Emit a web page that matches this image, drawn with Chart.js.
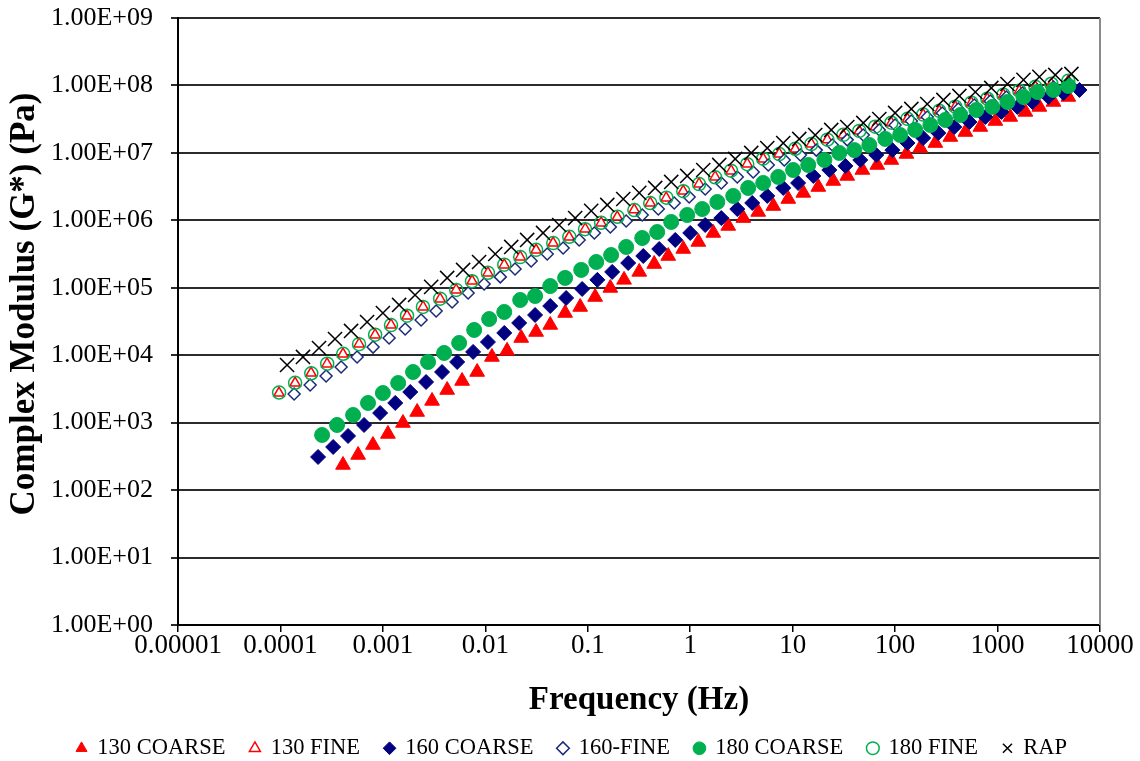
<!DOCTYPE html>
<html lang="en">
<head>
    <meta charset="UTF-8">
    <title>Complex Modulus vs Frequency</title>
    <style>
        html, body {
            margin: 0;
            padding: 0;
            background-color: #ffffff;
        }
        #wrap {
            width: 1140px;
            height: 761px;
        }
    </style>
</head>
<body>
    <div id="wrap"><canvas id="chart" width="1140" height="761"></canvas></div>
    <script src="https://cdn.jsdelivr.net/npm/chart.js"></script>
    <script>
        // 130 COARSE
        const coarse130Freq = [4.08e-4, 5.73e-4, 8.0e-4, 1.12e-3, 1.57e-3, 2.16e-3, 3.02e-3, 4.24e-3, 5.93e-3, 8.32e-3,
            1.16e-2, 1.63e-2, 2.24e-2, 3.13e-2, 4.30e-2, 6.01e-2, 8.43e-2, 0.118, 0.166, 0.226,
            0.318, 0.445, 0.610, 0.855, 1.20, 1.68, 2.35, 3.30, 4.61, 6.47,
            9.06, 12.7, 17.8, 24.9, 34.1, 47.9, 67.0, 91.8, 129, 176,
            247, 346, 485, 679, 952, 1330, 1870, 2560, 3510, 4910];
        const coarse130G = [236, 332, 467, 680, 989, 1440, 2100, 3050, 4150, 5640,
            9420, 1.16e4, 1.80e4, 2.21e4, 2.81e4, 4.23e4, 5.19e4, 7.30e4, 9.94e4, 1.31e5,
            1.72e5, 2.25e5, 2.96e5, 3.76e5, 4.78e5, 6.50e5, 8.25e5, 1.08e6, 1.33e6, 1.63e6,
            2.07e6, 2.55e6, 3.12e6, 3.83e6, 4.55e6, 5.58e6, 6.62e6, 7.85e6, 9.64e6, 1.18e7,
            1.40e7, 1.72e7, 2.04e7, 2.42e7, 2.97e7, 3.41e7, 4.05e7, 4.80e7, 5.69e7, 6.75e7];

        // 130 FINE
        const fine130Freq = [9.68e-5, 1.39e-4, 1.99e-4, 2.85e-4, 4.08e-4, 5.86e-4, 8.39e-4, 1.20e-3, 1.72e-3, 2.47e-3,
            3.62e-3, 5.19e-3, 7.43e-3, 1.06e-2, 1.53e-2, 2.19e-2, 3.13e-2, 4.59e-2, 6.58e-2, 9.44e-2,
            0.135, 0.194, 0.284, 0.407, 0.583, 0.855, 1.22, 1.75, 2.51, 3.60,
            5.16, 7.40, 10.6, 15.2, 21.8, 31.2, 44.7, 64.1, 91.8, 132,
            188, 270, 387, 555, 794, 1140, 1630, 2340, 3350, 4910];
        const fine130G = [2750, 3870, 5450, 7420, 1.04e4, 1.47e4, 2.00e4, 2.81e4, 3.82e4, 5.19e4,
            6.82e4, 9.27e4, 1.26e5, 1.66e5, 2.18e5, 2.86e5, 3.63e5, 4.61e5, 5.66e5, 7.45e5,
            9.14e5, 1.12e6, 1.43e6, 1.81e6, 2.15e6, 2.72e6, 3.46e6, 4.40e6, 5.40e6, 6.85e6,
            8.13e6, 9.64e6, 1.14e7, 1.36e7, 1.56e7, 1.84e7, 2.11e7, 2.42e7, 2.78e7, 3.18e7,
            3.65e7, 4.19e7, 4.80e7, 5.50e7, 6.31e7, 7.23e7, 8.28e7, 9.49e7, 1.05e8, 1.16e8];

        // 160 COARSE
        const coarse160Freq = [2.33e-4, 3.27e-4, 4.57e-4, 6.55e-4, 9.40e-4, 1.32e-3, 1.85e-3, 2.64e-3, 3.78e-3, 5.31e-3,
            7.60e-3, 1.06e-2, 1.53e-2, 2.14e-2, 3.06e-2, 4.30e-2, 6.15e-2, 8.81e-2, 0.124, 0.173,
            0.248, 0.348, 0.498, 0.714, 1.00, 1.40, 2.01, 2.88, 4.03, 5.65,
            8.09, 11.3, 15.9, 22.8, 32.7, 45.7, 65.5, 94.0, 132, 188,
            264, 378, 531, 760, 1090, 1560, 2190, 3130, 4390, 6300];
        const coarse160G = [310, 436, 635, 924, 1390, 1960, 2850, 4010, 5640, 7940,
            1.12e4, 1.57e4, 2.14e4, 3.01e4, 3.95e4, 5.37e4, 7.06e4, 9.60e4, 1.31e5, 1.72e5,
            2.33e5, 2.96e5, 3.76e5, 5.12e5, 6.50e5, 8.53e5, 1.08e6, 1.47e6, 1.81e6, 2.30e6,
            3.02e6, 3.58e6, 4.55e6, 5.58e6, 6.40e6, 7.85e6, 9.31e6, 1.10e7, 1.40e7, 1.66e7,
            1.97e7, 2.42e7, 2.87e7, 3.41e7, 4.05e7, 4.80e7, 5.69e7, 6.75e7, 7.73e7, 8.57e7];

        // 160-FINE
        const fine160Freq = [1.36e-4, 1.95e-4, 2.79e-4, 3.91e-4, 5.60e-4, 8.02e-4, 1.15e-3, 1.65e-3, 2.36e-3, 3.31e-3,
            4.74e-3, 6.79e-3, 9.73e-3, 1.40e-2, 1.95e-2, 2.80e-2, 4.02e-2, 5.75e-2, 8.24e-2, 0.116,
            0.166, 0.237, 0.340, 0.488, 0.698, 0.977, 1.40, 2.01, 2.88, 4.12,
            5.78, 8.28, 11.9, 17.0, 24.4, 34.1, 48.9, 70.1, 100, 144,
            206, 289, 414, 593, 851, 1220, 1750, 2450, 3510, 5020];
        const fine160G = [2660, 3620, 4920, 6700, 9420, 1.32e4, 1.80e4, 2.45e4, 3.33e4, 4.53e4,
            6.15e4, 8.38e4, 1.14e5, 1.45e5, 1.90e5, 2.50e5, 3.17e5, 3.89e5, 5.12e5, 6.50e5,
            7.98e5, 9.79e5, 1.20e6, 1.47e6, 1.81e6, 2.22e6, 2.92e6, 3.58e6, 4.40e6, 5.21e6,
            6.62e6, 7.85e6, 9.31e6, 1.10e7, 1.31e7, 1.56e7, 1.84e7, 2.19e7, 2.59e7, 2.97e7,
            3.41e7, 3.91e7, 4.48e7, 5.14e7, 5.89e7, 6.75e7, 7.73e7, 8.57e7, 9.49e7, 1.05e8];

        // 180 COARSE
        const coarse180Freq = [2.55e-4, 3.57e-4, 5.12e-4, 7.16e-4, 1.00e-3, 1.41e-3, 1.97e-3, 2.76e-3, 3.96e-3, 5.55e-3,
            7.78e-3, 1.09e-2, 1.53e-2, 2.19e-2, 3.06e-2, 4.30e-2, 6.01e-2, 8.63e-2, 0.121, 0.169,
            0.237, 0.340, 0.476, 0.652, 0.935, 1.31, 1.84, 2.63, 3.68, 5.16,
            7.23, 10.1, 14.2, 20.4, 28.5, 40.0, 56.0, 80.2, 112, 157,
            221, 309, 434, 621, 889, 1250, 1790, 2450, 3510, 4910];
        const coarse180G = [657, 924, 1300, 1960, 2750, 3870, 5640, 7940, 1.08e4, 1.52e4,
            2.37e4, 3.44e4, 4.38e4, 6.59e4, 7.55e4, 1.06e5, 1.40e5, 1.84e5, 2.41e5, 3.06e5,
            4.03e5, 5.47e5, 6.71e5, 9.46e5, 1.20e6, 1.47e6, 1.87e6, 2.30e6, 3.02e6, 3.58e6,
            4.40e6, 5.58e6, 6.62e6, 7.85e6, 9.98e6, 1.10e7, 1.31e7, 1.61e7, 1.84e7, 2.19e7,
            2.59e7, 3.08e7, 3.65e7, 4.33e7, 4.80e7, 5.69e7, 6.75e7, 8.00e7, 8.57e7, 9.82e7];

        // 180 FINE
        const fine180Freq = [9.7e-5, 1.39e-4, 2.0e-4, 2.86e-4, 4.1e-4, 5.85e-4, 8.4e-4, 1.20e-3, 1.72e-3, 2.46e-3,
            3.62e-3, 5.2e-3, 7.4e-3, 1.06e-2, 1.53e-2, 2.19e-2, 3.13e-2, 4.6e-2, 6.6e-2, 9.4e-2,
            0.135, 0.195, 0.285, 0.407, 0.585, 0.855, 1.22, 1.75, 2.5, 3.6,
            5.15, 7.4, 10.6, 15.2, 21.8, 31.2, 44.7, 64, 92, 132,
            188, 270, 387, 555, 795, 1140, 1630, 2340, 3350, 4900];
        const fine180G = [2800, 3900, 5400, 7500, 1.05e4, 1.46e4, 2.02e4, 2.80e4, 3.85e4, 5.20e4,
            6.90e4, 9.30e4, 1.25e5, 1.67e5, 2.20e5, 2.85e5, 3.65e5, 4.60e5, 5.70e5, 7.40e5,
            9.20e5, 1.13e6, 1.42e6, 1.80e6, 2.17e6, 2.70e6, 3.45e6, 4.35e6, 5.45e6, 6.80e6,
            8.20e6, 9.60e6, 1.15e7, 1.35e7, 1.57e7, 1.85e7, 2.12e7, 2.45e7, 2.80e7, 3.20e7,
            3.70e7, 4.20e7, 4.85e7, 5.55e7, 6.35e7, 7.30e7, 8.35e7, 9.55e7, 1.06e8, 1.17e8];

        // RAP
        const rapFreq = [1.16e-4, 1.66e-4, 2.38e-4, 3.41e-4, 4.89e-4, 7.01e-4, 1.00e-3, 1.44e-3, 2.06e-3, 2.96e-3,
            4.24e-3, 6.07e-3, 8.69e-3, 1.25e-2, 1.79e-2, 2.56e-2, 3.66e-2, 5.26e-2, 7.53e-2, 0.108,
            0.155, 0.222, 0.318, 0.455, 0.652, 0.935, 1.34, 1.92, 2.75, 3.94,
            5.65, 8.09, 11.6, 16.6, 23.8, 34.1, 48.9, 70.1, 100, 144,
            206, 296, 424, 607, 869, 1250, 1790, 2560, 3660, 5260];
        const rapG = [7160, 9420, 1.28e4, 1.74e4, 2.29e4, 3.11e4, 4.23e4, 5.56e4, 7.82e4, 1.03e5,
            1.40e5, 1.84e5, 2.41e5, 3.17e5, 4.03e5, 5.12e5, 6.50e5, 8.53e5, 1.08e6, 1.38e6,
            1.69e6, 2.07e6, 2.55e6, 3.02e6, 3.71e6, 4.55e6, 5.58e6, 6.62e6, 8.13e6, 9.98e6,
            1.18e7, 1.40e7, 1.61e7, 1.84e7, 2.19e7, 2.42e7, 2.78e7, 3.18e7, 3.91e7, 4.48e7,
            5.31e7, 6.10e7, 6.98e7, 8.00e7, 9.18e7, 1.05e8, 1.21e8, 1.34e8, 1.43e8, 1.48e8];

        // axis ticks
        const xTickValues = [1e-5, 1e-4, 1e-3, 1e-2, 1e-1, 1, 10, 100, 1000, 10000];
        const xTickLabels = ['0.00001', '0.0001', '0.001', '0.01', '0.1', '1', '10', '100', '1000', '10000'];
        const yTickValues = [1, 10, 100, 1e3, 1e4, 1e5, 1e6, 1e7, 1e8, 1e9];
        const yTickLabels = ['1.00E+00', '1.00E+01', '1.00E+02', '1.00E+03', '1.00E+04',
            '1.00E+05', '1.00E+06', '1.00E+07', '1.00E+08', '1.00E+09'];

        const serif = "'Liberation Serif', 'Times New Roman', serif";

        function toPoints(xs, ys) {
            return xs.map((x, i) => ({ x: x, y: ys[i] }));
        }

        // grey right-hand frame line of the plot area
        const rightFrame = {
            id: 'rightFrame',
            beforeDatasetsDraw(chart) {
                const { ctx, chartArea } = chart;
                ctx.save();
                ctx.strokeStyle = '#8a8a8a';
                ctx.lineWidth = 2;
                ctx.beginPath();
                ctx.moveTo(chartArea.right, chartArea.top);
                ctx.lineTo(chartArea.right, chartArea.bottom);
                ctx.stroke();
                ctx.restore();
            }
        };

        // fixed legend strip height, then nudge it a little right and up
        const legendPlace = {
            id: 'legendPlace',
            beforeInit(chart) {
                const lg = chart.legend;
                if (!lg) return;
                const origFit = lg.fit;
                lg.fit = function () {
                    origFit.call(this);
                    this.height = 46;
                };
            },
            afterLayout(chart) {
                const lg = chart.legend;
                if (!lg) return;
                lg.left += 22;
                lg.right += 22;
                lg.top -= 3;
                lg.bottom -= 3;
            }
        };

        new Chart(document.getElementById('chart').getContext('2d'), {
            type: 'scatter',
            data: {
                datasets: [
                    {
                        label: '130 COARSE',
                        data: toPoints(coarse130Freq, coarse130G),
                        pointStyle: 'triangle',
                        pointRadius: 8.5,
                        backgroundColor: '#ff0000',
                        borderColor: '#ff0000',
                        borderWidth: 1,
                        order: 7
                    },
                    {
                        label: '130 FINE',
                        data: toPoints(fine130Freq, fine130G),
                        pointStyle: 'triangle',
                        pointRadius: 6,
                        backgroundColor: '#ffffff',
                        borderColor: '#ff0000',
                        borderWidth: 1.5,
                        order: 6
                    },
                    {
                        label: '160 COARSE',
                        data: toPoints(coarse160Freq, coarse160G),
                        pointStyle: 'rectRot',
                        pointRadius: 7.5,
                        backgroundColor: '#000080',
                        borderColor: '#000080',
                        borderWidth: 1,
                        order: 5
                    },
                    {
                        label: '160-FINE',
                        data: toPoints(fine160Freq, fine160G),
                        pointStyle: 'rectRot',
                        pointRadius: 6,
                        backgroundColor: '#ffffff',
                        borderColor: '#1c2a7a',
                        borderWidth: 1.5,
                        order: 4
                    },
                    {
                        label: '180 COARSE',
                        data: toPoints(coarse180Freq, coarse180G),
                        pointStyle: 'circle',
                        pointRadius: 7.5,
                        backgroundColor: '#00b050',
                        borderColor: '#00b050',
                        borderWidth: 1,
                        order: 3
                    },
                    {
                        label: '180 FINE',
                        data: toPoints(fine180Freq, fine180G),
                        pointStyle: 'circle',
                        pointRadius: 6.5,
                        backgroundColor: 'rgba(255,255,255,0)',
                        borderColor: '#00b050',
                        borderWidth: 1.5,
                        order: 2
                    },
                    {
                        label: 'RAP',
                        data: toPoints(rapFreq, rapG),
                        pointStyle: 'crossRot',
                        pointRadius: 10,
                        backgroundColor: '#000000',
                        borderColor: '#000000',
                        borderWidth: 1.5,
                        order: 1
                    }
                ]
            },
            options: {
                responsive: false,
                animation: false,
                events: [],
                layout: {
                    padding: { top: 18, right: 40, bottom: 0, left: 0 }
                },
                plugins: {
                    tooltip: { enabled: false },
                    legend: {
                        position: 'bottom',
                        labels: {
                            usePointStyle: true,
                            boxWidth: 9,
                            boxHeight: 9,
                            padding: 25,
                            color: '#000000',
                            font: { family: serif, size: 22.5 },
                            sort: (a, b) => a.datasetIndex - b.datasetIndex
                        }
                    }
                },
                scales: {
                    x: {
                        type: 'logarithmic',
                        min: 1e-5,
                        max: 1e4,
                        afterBuildTicks: (scale) => {
                            scale.ticks = xTickValues.map(v => ({ value: v }));
                        },
                        afterFit: (scale) => {
                            scale.height = 90;
                        },
                        ticks: {
                            autoSkip: false,
                            maxRotation: 0,
                            color: '#000000',
                            padding: 0,
                            font: { family: serif, size: 27, lineHeight: 1.0 },
                            callback: (v) => xTickLabels[xTickValues.indexOf(v)]
                        },
                        grid: {
                            drawOnChartArea: false,
                            drawTicks: true,
                            tickLength: 7,
                            color: '#000000',
                            lineWidth: 1.5
                        },
                        border: { color: '#000000', width: 2 },
                        title: {
                            display: true,
                            text: 'Frequency (Hz)',
                            color: '#000000',
                            font: { family: serif, size: 33, weight: 'bold', lineHeight: 0.9 },
                            padding: { top: 0, bottom: 0 }
                        }
                    },
                    y: {
                        type: 'logarithmic',
                        min: 1,
                        max: 1e9,
                        afterBuildTicks: (scale) => {
                            scale.ticks = yTickValues.map(v => ({ value: v }));
                        },
                        afterFit: (scale) => {
                            scale.width = 178;
                            scale.paddingTop = 0;
                            scale.paddingBottom = 0;
                        },
                        ticks: {
                            color: '#000000',
                            padding: 18,
                            font: { family: serif, size: 26 },
                            callback: (v) => yTickLabels[yTickValues.indexOf(v)]
                        },
                        grid: {
                            color: '#2b2b2b',
                            lineWidth: 2,
                            drawTicks: true,
                            tickLength: 7
                        },
                        border: { color: '#000000', width: 2 },
                        title: {
                            display: true,
                            text: '    Complex Modulus (G*) (Pa)',
                            color: '#000000',
                            font: { family: serif, size: 35, weight: 'bold', lineHeight: 1.2 },
                            padding: { top: 4, bottom: 0 }
                        }
                    }
                }
            },
            plugins: [rightFrame, legendPlace]
        });
    </script>
</body>
</html>
